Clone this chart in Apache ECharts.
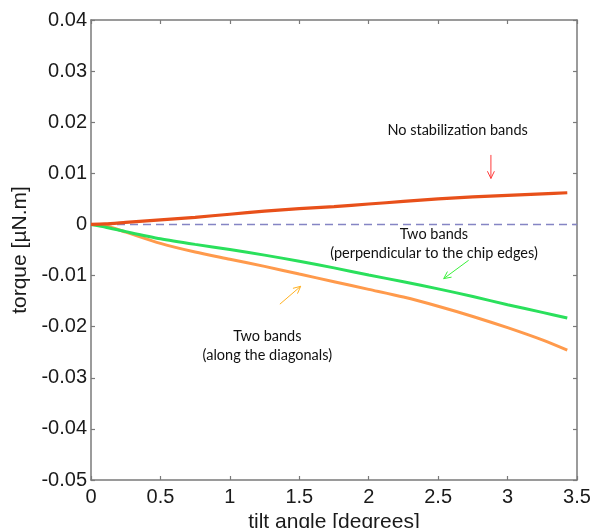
<!DOCTYPE html>
<html>
<head>
<meta charset="utf-8">
<script src="https://cdn.jsdelivr.net/npm/echarts@6/dist/echarts.min.js"></script>
<style>html,body{margin:0;padding:0;background:#fff}#c{width:604px;height:528px}</style>
</head>
<body>
<div id="c"></div>
<script>
const xValues = [0, 0.1, 0.25, 0.5, 0.75, 1.0, 1.25, 1.5, 1.75, 2.0, 2.25, 2.5, 2.75, 3.0, 3.25, 3.43];
const noBands = [0, 0.0001, 0.0004, 0.0009, 0.0014, 0.0020, 0.0026, 0.0031, 0.0035, 0.0040, 0.0045, 0.0050, 0.0054, 0.0057, 0.0060, 0.0062];
const perpBands = [0, -0.0005, -0.0014, -0.0028, -0.0039, -0.0049, -0.0060, -0.0072, -0.0085, -0.0099, -0.0112, -0.0126, -0.0141, -0.0157, -0.0172, -0.0183];
const diagBands = [0, -0.0002, -0.0015, -0.0037, -0.0054, -0.0068, -0.0082, -0.0097, -0.0112, -0.0127, -0.0142, -0.0160, -0.0180, -0.0202, -0.0226, -0.0246];
const zeroLine = [[0, 0], [3.5, 0]];
const xTicks = ['0', '0.5', '1', '1.5', '2', '2.5', '3', '3.5'];

const pair = ys => xValues.map((x, i) => [x, ys[i]]);
const axisGray = '#7a7a7a';
const txt = '#1a1a1a';

const chart = echarts.init(document.getElementById('c'));
const baseX = {
  type: 'value', min: 0, max: 3.5, interval: 0.5,
  axisLine: { show: true, onZero: false, lineStyle: { color: axisGray, width: 1.5 } },
  axisTick: { show: true, inside: true, length: 4, lineStyle: { color: axisGray, width: 1.2 } },
  splitLine: { show: false }
};
const baseY = {
  type: 'value', min: -0.05, max: 0.04, interval: 0.01,
  axisLine: { show: true, onZero: false, lineStyle: { color: axisGray, width: 1.5 } },
  axisTick: { show: true, inside: true, length: 4, lineStyle: { color: axisGray, width: 1.2 } },
  splitLine: { show: false }
};
const fmtY = v => Math.abs(v) < 1e-9 ? '0' : v.toFixed(2);

chart.setOption({
  animation: false,
  grid: { left: 91, top: 20, width: 486, height: 460, containLabel: false, outerBoundsMode: 'none' },
  xAxis: [
    Object.assign({}, baseX, {
      position: 'bottom',
      axisLabel: { fontSize: 20, color: txt, fontFamily: 'Liberation Sans', margin: 7,
        formatter: v => xTicks[Math.round(v / 0.5)] },
      name: 'tilt angle [degrees]', nameLocation: 'middle', nameGap: 30,
      nameTextStyle: { fontSize: 21, color: txt, fontFamily: 'Liberation Sans' }
    }),
    Object.assign({}, baseX, { position: 'top', axisLabel: { show: false } })
  ],
  yAxis: [
    Object.assign({}, baseY, {
      position: 'left',
      axisLabel: { fontSize: 20, color: txt, fontFamily: 'Liberation Sans', margin: 4, formatter: fmtY },
      name: 'torque [µN.m]', nameLocation: 'middle', nameGap: 53,
      nameTextStyle: { fontSize: 21, color: txt, fontFamily: 'Liberation Sans' }
    }),
    Object.assign({}, baseY, { position: 'right', axisLabel: { show: false } })
  ],
  series: [
    { type: 'line', data: zeroLine, showSymbol: false, silent: true,
      lineStyle: { color: '#8585c4', width: 1.5, type: [8, 5] } },
    { type: 'line', data: pair(diagBands), showSymbol: false, smooth: 0.25,
      lineStyle: { color: '#ff9a4c', width: 3 } },
    { type: 'line', data: pair(perpBands), showSymbol: false, smooth: 0.25,
      lineStyle: { color: '#2ae05c', width: 3 } },
    { type: 'line', data: pair(noBands), showSymbol: false, smooth: 0.25,
      lineStyle: { color: '#e8501a', width: 3.2 } }
  ]
});

// annotations (data coordinates)
const labels = [
  { text: 'No stabilization bands', at: [2.64, 0.0185] },
  { text: 'Two bands', at: [2.47, -0.0020] },
  { text: '(perpendicular to the chip edges)', at: [2.47, -0.0057] },
  { text: 'Two bands', at: [1.27, -0.0219] },
  { text: '(along the diagonals)', at: [1.27, -0.0256] }
];
const arrows = [
  { from: [2.88, 0.0136], to: [2.88, 0.0090], color: '#ff3b3b' },
  { from: [2.72, -0.0070], to: [2.54, -0.0106], color: '#3af03a' },
  { from: [1.36, -0.0156], to: [1.51, -0.0121], color: '#ffb020' }
];
const px = p => chart.convertToPixel({ xAxisIndex: 0, yAxisIndex: 0 }, p);
const g = [];
labels.forEach(l => {
  const p = px(l.at);
  g.push({ type: 'text', x: p[0], y: p[1], silent: true,
    style: { text: l.text, fill: '#111', font: '14.5px Lato', align: 'center', verticalAlign: 'middle' } });
});
arrows.forEach(a => {
  const p1 = px(a.from), p2 = px(a.to);
  const ang = Math.atan2(p2[1] - p1[1], p2[0] - p1[0]);
  const h = 8, spread = 0.45;
  const l1 = [p2[0] - h * Math.cos(ang - spread), p2[1] - h * Math.sin(ang - spread)];
  const l2 = [p2[0] - h * Math.cos(ang + spread), p2[1] - h * Math.sin(ang + spread)];
  g.push({ type: 'line', silent: true, shape: { x1: p1[0], y1: p1[1], x2: p2[0], y2: p2[1] },
    style: { stroke: a.color, lineWidth: 1 } });
  g.push({ type: 'polyline', silent: true, shape: { points: [l1, p2, l2] },
    style: { stroke: a.color, lineWidth: 1, fill: null } });
});
chart.setOption({ graphic: g });
</script>
</body>
</html>
